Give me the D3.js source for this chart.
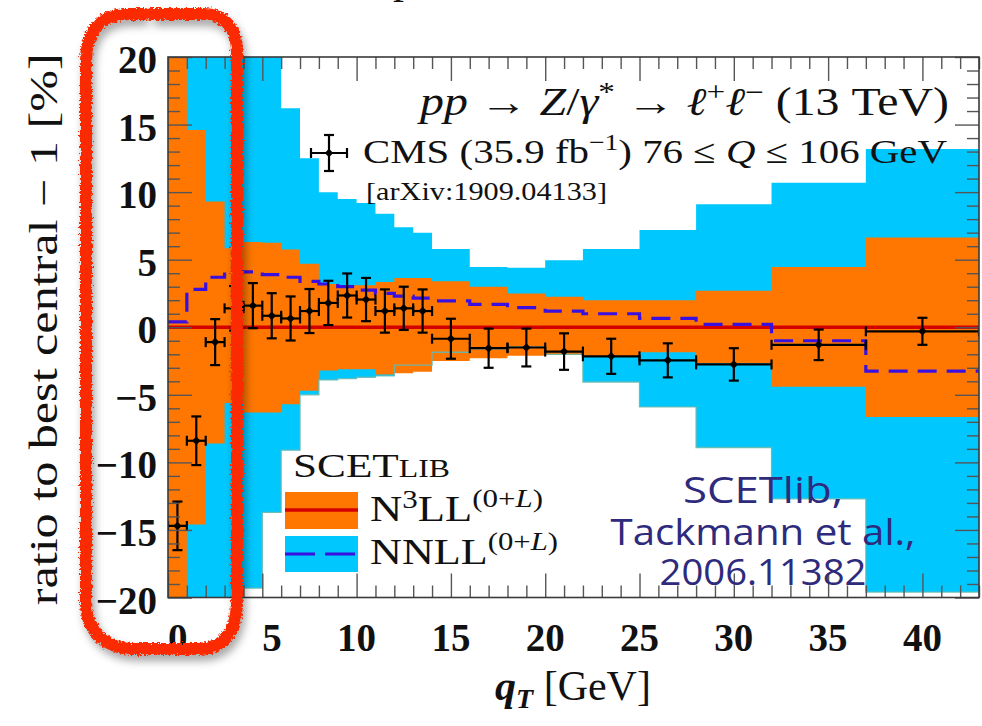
<!DOCTYPE html>
<html>
<head>
<meta charset="utf-8">
<script src="https://cdn.jsdelivr.net/npm/d3@7"></script>
<style>
  html, body { margin: 0; padding: 0; background: #ffffff; }
  svg { display: block; }
</style>
</head>
<body>
<svg id="chart" width="982" height="726"></svg>
<script>
// q_T bin edges in GeV (CMS 13 TeV Z/gamma* binning)
const binEdges = [0,1,2,3,4,5,6,7,8,9,10,11,12,13,14,16,18,20,22,25,28,32,37,43];

// CMS measurement, ratio to best central - 1 [%], and its uncertainty
const cmsRatio = [-14.7,-8.4,-1.1,1.4,1.6,0.85,0.65,1.2,1.8,2.35,2.05,1.2,1.4,1.2,-0.85,-1.55,-1.5,-1.8,-2.15,-2.45,-2.75,-1.3,-0.3];
const cmsError = [1.8,1.8,1.7,1.65,1.67,1.67,1.63,1.63,1.64,1.63,1.6,1.6,1.6,1.6,1.48,1.45,1.4,1.35,1.3,1.26,1.2,1.13,1.0];

// N3LL^(0+L) central value and uncertainty band
const n3llCentral = [0,0,0,0,0,0,0,0,0,0,0,0,0,0,0,0,0,0,0,0,0,0,0];
const n3llUpper = [25,14.6,9.3,5.85,6.3,6.25,5.75,4.7,3.2,3.1,3.1,3.35,3.65,3.65,3.4,3.0,2.5,2.25,2.0,2.0,2.7,4.45,6.65];
const n3llLower = [-25,-14.6,-8.6,-5.6,-6.3,-6.3,-5.7,-4.7,-3.2,-3.1,-3.1,-3.5,-3.4,-3.3,-2.5,-2.3,-2.1,-2.05,-2.15,-1.85,-2.65,-4.4,-6.65];

// NNLL^(0+L) central value and uncertainty band
const nnllCentral = [0.4,2.8,3.7,4.1,4.1,3.9,3.7,3.4,3.2,3.0,2.75,2.5,2.3,2.15,1.95,1.7,1.45,1.2,1.0,0.65,0.22,-1.0,-3.25];
const nnllUpper = [25,25,25,25,25,25,16.2,12.5,10.0,9.5,9.2,8.4,7.4,7.0,5.8,4.45,4.4,4.95,5.8,7.2,9.1,10.7,13.2];
const nnllLower = [-25,-25,-25,-25,-19.3,-13.7,-9.1,-5.0,-3.9,-3.8,-3.7,-3.6,-2.8,-2.8,-1.85,-1.6,-1.45,-2.0,-4.05,-5.9,-8.9,-12.7,-19.6];

// axis ticks
const xMajorTicks = [0,5,10,15,20,25,30,35,40];
const xMinorTicks = [1,2,3,4,6,7,8,9,11,12,13,14,16,17,18,19,21,22,23,24,26,27,28,29,31,32,33,34,36,37,38,39,41,42,43];
const yMajorTicks = [-20,-15,-10,-5,0,5,10,15,20];
const yMinorTicks = [-19,-18,-17,-16,-14,-13,-12,-11,-9,-8,-7,-6,-4,-3,-2,-1,1,2,3,4,6,7,8,9,11,12,13,14,16,17,18,19];

const colOrange = "#ff7700";
const colCyan = "#00c8ff";
const colRed = "#d40000";
const colBlue = "#3a10e0";
const serif = "'Liberation Serif', 'DejaVu Serif', serif";

const svg = d3.select("#chart");
const x = d3.scaleLinear().domain([0, 43]).range([168, 979]);
const y = d3.scaleLinear().domain([-20, 20]).range([597.5, 57]);

const defs = svg.append("defs");
defs.append("clipPath").attr("id", "plotClip")
  .append("rect").attr("x", x(0)).attr("y", y(20))
  .attr("width", x(43) - x(0)).attr("height", y(-20) - y(20));

// step-shaped rows: each bin contributes its left and right edge
function stepRows(values) {
  const rows = [];
  values.forEach((v, i) => {
    rows.push({ q: binEdges[i], v: v });
    rows.push({ q: binEdges[i + 1], v: v });
  });
  return rows;
}
function bandRows(lo, hi) {
  const rows = [];
  lo.forEach((v, i) => {
    rows.push({ q: binEdges[i], lo: v, hi: hi[i] });
    rows.push({ q: binEdges[i + 1], lo: v, hi: hi[i] });
  });
  return rows;
}

const bandArea = d3.area().x(d => x(d.q)).y0(d => y(d.lo)).y1(d => y(d.hi));
const stepLine = d3.line().x(d => x(d.q)).y(d => y(d.v));

const plot = svg.append("g").attr("clip-path", "url(#plotClip)");

plot.append("path").datum(bandRows(nnllLower, nnllUpper))
  .attr("d", bandArea).attr("fill", colCyan);
plot.append("path").datum(bandRows(n3llLower, n3llUpper))
  .attr("d", bandArea).attr("fill", colOrange);
// faint edge of the NNLL band where it lies inside the N3LL band
plot.append("path").datum(stepRows(nnllLower))
  .attr("d", stepLine).attr("fill", "none")
  .attr("stroke", "#62b9b4").attr("stroke-width", 1.3).attr("opacity", 0.9);

plot.append("path").datum(stepRows(n3llCentral))
  .attr("d", stepLine).attr("fill", "none")
  .attr("stroke", colRed).attr("stroke-width", 3.5);
plot.append("path").datum(stepRows(nnllCentral))
  .attr("d", stepLine).attr("fill", "none")
  .attr("stroke", colBlue).attr("stroke-width", 3.2)
  .attr("stroke-dasharray", "19,10");

// CMS data points with error bars
const cms = binEdges.slice(0, -1).map((lo, i) => ({
  lo: lo, hi: binEdges[i + 1], mid: (lo + binEdges[i + 1]) / 2,
  v: cmsRatio[i], e: cmsError[i]
}));
const pts = plot.append("g").attr("stroke", "#000").attr("stroke-width", 2.2);
const cap = 5;
cms.forEach(d => {
  const g = pts.append("g");
  const cx = x(d.mid), cy = y(d.v);
  g.append("line").attr("x1", x(d.lo)).attr("x2", x(d.hi)).attr("y1", cy).attr("y2", cy);
  g.append("line").attr("x1", x(d.lo)).attr("x2", x(d.lo)).attr("y1", cy - cap).attr("y2", cy + cap);
  g.append("line").attr("x1", x(d.hi)).attr("x2", x(d.hi)).attr("y1", cy - cap).attr("y2", cy + cap);
  g.append("line").attr("x1", cx).attr("x2", cx).attr("y1", y(d.v + d.e)).attr("y2", y(d.v - d.e));
  g.append("line").attr("x1", cx - cap).attr("x2", cx + cap).attr("y1", y(d.v + d.e)).attr("y2", y(d.v + d.e));
  g.append("line").attr("x1", cx - cap).attr("x2", cx + cap).attr("y1", y(d.v - d.e)).attr("y2", y(d.v - d.e));
});
const diamond = d3.symbol(d3.symbolSquare, 36);
plot.append("g").selectAll("path").data(cms).join("path")
  .attr("d", diamond)
  .attr("transform", d => `translate(${x(d.mid)},${y(d.v)}) rotate(45)`)
  .attr("fill", "#000");

// axes: ticks point inward on all four sides
function styleAxis(g) {
  g.select(".domain").remove();
  g.selectAll(".tick line").attr("stroke", "#555").attr("stroke-width", 1.4);
}
const bottomY = y(-20), topY = y(20), leftX = x(0), rightX = x(43);

svg.append("g").attr("transform", `translate(0,${bottomY})`)
  .call(d3.axisBottom(x).tickValues(xMinorTicks).tickSize(-12).tickFormat(""))
  .call(styleAxis);
const gx = svg.append("g").attr("transform", `translate(0,${bottomY})`)
  .call(d3.axisBottom(x).tickValues(xMajorTicks).tickSize(-24).tickFormat(d3.format("d")))
  .call(styleAxis);
gx.selectAll(".tick text")
  .attr("y", 53).attr("dy", 0).attr("x", 19).attr("text-anchor", "end")
  .attr("font-family", serif).attr("font-weight", "bold").attr("font-size", 39).attr("fill", "#111");

svg.append("g").attr("transform", `translate(0,${topY})`)
  .call(d3.axisTop(x).tickValues(xMinorTicks).tickSize(-12).tickFormat(""))
  .call(styleAxis);
svg.append("g").attr("transform", `translate(0,${topY})`)
  .call(d3.axisTop(x).tickValues(xMajorTicks).tickSize(-24).tickFormat(""))
  .call(styleAxis);

svg.append("g").attr("transform", `translate(${leftX},0)`)
  .call(d3.axisLeft(y).tickValues(yMinorTicks).tickSize(-12).tickFormat(""))
  .call(styleAxis);
const gy = svg.append("g").attr("transform", `translate(${leftX},0)`)
  .call(d3.axisLeft(y).tickValues(yMajorTicks).tickSize(-24).tickPadding(11))
  .call(styleAxis);
gy.selectAll(".tick text")
  .attr("font-family", serif).attr("font-weight", "bold").attr("font-size", 39).attr("fill", "#111")
  .attr("dy", "0.4em");

svg.append("g").attr("transform", `translate(${rightX},0)`)
  .call(d3.axisRight(y).tickValues(yMinorTicks).tickSize(-12).tickFormat(""))
  .call(styleAxis);
svg.append("g").attr("transform", `translate(${rightX},0)`)
  .call(d3.axisRight(y).tickValues(yMajorTicks).tickSize(-24).tickFormat(""))
  .call(styleAxis);

svg.append("rect")
  .attr("x", leftX).attr("y", topY).attr("width", rightX - leftX).attr("height", bottomY - topY)
  .attr("fill", "none").attr("stroke", "#3a3a3a").attr("stroke-width", 1.6);

// axis titles
svg.append("text")
  .attr("transform", `translate(57,${(topY + bottomY) / 2 + 2}) rotate(-90)`)
  .attr("text-anchor", "middle")
  .attr("font-family", serif).attr("font-size", 40).attr("fill", "#111")
  .attr("textLength", 552).attr("lengthAdjust", "spacingAndGlyphs")
  .text("ratio to best central \u2212 1 [%]");

const xt = svg.append("text")
  .attr("x", 573).attr("y", 700).attr("text-anchor", "middle")
  .attr("font-family", serif).attr("font-size", 42).attr("fill", "#111");
xt.append("tspan").attr("font-style", "italic").attr("font-weight", "bold").text("q");
xt.append("tspan").attr("font-style", "italic").attr("font-weight", "bold")
  .attr("font-size", 28).attr("dy", 8).text("T");
xt.append("tspan").attr("dy", -8).text(" [GeV]");

// process label
const proc = svg.append("text")
  .attr("x", 949).attr("y", 115).attr("text-anchor", "end")
  .attr("font-family", serif).attr("font-size", 39).attr("fill", "#111")
  .attr("textLength", 529).attr("lengthAdjust", "spacingAndGlyphs");
proc.append("tspan").attr("font-style", "italic").text("pp");
proc.append("tspan").text(" \u2192 ");
proc.append("tspan").attr("font-style", "italic").text("Z");
proc.append("tspan").text("/");
proc.append("tspan").attr("font-style", "italic").text("\u03b3");
proc.append("tspan").attr("font-size", 27).attr("dy", -14).text("*");
proc.append("tspan").attr("dy", 14).text(" \u2192 ");
proc.append("tspan").attr("font-style", "italic").text("\u2113");
proc.append("tspan").attr("font-size", 27).attr("dy", -14).text("+");
proc.append("tspan").attr("font-style", "italic").attr("dy", 14).text("\u2113");
proc.append("tspan").attr("font-size", 27).attr("dy", -14).text("\u2212");
proc.append("tspan").attr("dy", 14).text(" (13 TeV)");

// data legend entry
const lgx = 329, lgy = 153;
const lg = svg.append("g").attr("stroke", "#000").attr("stroke-width", 2.2);
lg.append("line").attr("x1", lgx - 18).attr("x2", lgx + 18).attr("y1", lgy).attr("y2", lgy);
lg.append("line").attr("x1", lgx - 18).attr("x2", lgx - 18).attr("y1", lgy - cap).attr("y2", lgy + cap);
lg.append("line").attr("x1", lgx + 18).attr("x2", lgx + 18).attr("y1", lgy - cap).attr("y2", lgy + cap);
lg.append("line").attr("x1", lgx).attr("x2", lgx).attr("y1", lgy - 18).attr("y2", lgy + 18);
lg.append("line").attr("x1", lgx - cap).attr("x2", lgx + cap).attr("y1", lgy - 18).attr("y2", lgy - 18);
lg.append("line").attr("x1", lgx - cap).attr("x2", lgx + cap).attr("y1", lgy + 18).attr("y2", lgy + 18);
svg.append("path").attr("d", diamond)
  .attr("transform", `translate(${lgx},${lgy}) rotate(45)`).attr("fill", "#000");

const cmsText = svg.append("text")
  .attr("x", 363).attr("y", 163)
  .attr("font-family", serif).attr("font-size", 34).attr("fill", "#111")
  .attr("textLength", 584).attr("lengthAdjust", "spacingAndGlyphs");
cmsText.append("tspan").text("CMS (35.9 fb");
cmsText.append("tspan").attr("font-size", 23).attr("dy", -13).text("\u22121");
cmsText.append("tspan").attr("dy", 13).text(")  76 \u2264 ");
cmsText.append("tspan").attr("font-style", "italic").text("Q");
cmsText.append("tspan").text(" \u2264 106 GeV");

svg.append("text")
  .attr("x", 366).attr("y", 200)
  .attr("font-family", serif).attr("font-size", 26).attr("fill", "#111")
  .attr("textLength", 241).attr("lengthAdjust", "spacingAndGlyphs")
  .text("[arXiv:1909.04133]");

// theory legend
const head = svg.append("text")
  .attr("x", 293).attr("y", 477)
  .attr("font-family", serif).attr("font-size", 34).attr("fill", "#111")
  .attr("textLength", 157).attr("lengthAdjust", "spacingAndGlyphs");
head.append("tspan").text("SCET");
head.append("tspan").attr("font-size", 25).text("LIB");

svg.append("rect").attr("x", 285).attr("y", 492).attr("width", 73).attr("height", 37).attr("fill", colOrange);
svg.append("line").attr("x1", 285).attr("x2", 358).attr("y1", 510).attr("y2", 510)
  .attr("stroke", colRed).attr("stroke-width", 3.5);
svg.append("rect").attr("x", 285).attr("y", 536).attr("width", 73).attr("height", 36).attr("fill", colCyan);
svg.append("line").attr("x1", 285).attr("x2", 358).attr("y1", 554).attr("y2", 554)
  .attr("stroke", colBlue).attr("stroke-width", 3.2).attr("stroke-dasharray", "30,10");

function orderLabel(yy, width, parts) {
  const t = svg.append("text").attr("x", 370).attr("y", yy)
    .attr("font-family", serif).attr("font-size", 36).attr("fill", "#111")
    .attr("textLength", width).attr("lengthAdjust", "spacingAndGlyphs");
  parts(t);
}
orderLabel(521, 173, t => {
  t.append("tspan").text("N");
  t.append("tspan").attr("font-size", 25).attr("dy", -13).text("3");
  t.append("tspan").attr("dy", 13).text("LL");
  t.append("tspan").attr("font-size", 25).attr("dy", -14).text("(0+");
  t.append("tspan").attr("font-size", 25).attr("font-style", "italic").text("L");
  t.append("tspan").attr("font-size", 25).text(")");
});
orderLabel(564, 188, t => {
  t.append("tspan").text("NNLL");
  t.append("tspan").attr("font-size", 25).attr("dy", -14).text("(0+");
  t.append("tspan").attr("font-size", 25).attr("font-style", "italic").text("L");
  t.append("tspan").attr("font-size", 25).text(")");
});

// reference note
[["SCETlib,", 503, 160], ["Tackmann et al.,", 545, 305], ["2006.11382", 585, 207]].forEach(([s, yy, w]) => {
  svg.append("text")
    .attr("x", 763).attr("y", yy).attr("text-anchor", "middle")
    .attr("font-family", "'Open Sans', 'DejaVu Sans', sans-serif")
    .attr("font-size", 36).attr("fill", "#2e2a7c")
    .attr("textLength", w).attr("lengthAdjust", "spacingAndGlyphs")
    .text(s);
});

// fragment of the heading above the figure
svg.append("text").attr("x", 393).attr("y", -7)
  .attr("font-family", serif).attr("font-size", 44).attr("fill", "#111").text("p");

// hand-drawn highlight around the low-q_T region
const rough = defs.append("filter").attr("id", "rough")
  .attr("x", "-20%").attr("y", "-10%").attr("width", "140%").attr("height", "120%");
rough.append("feTurbulence").attr("type", "fractalNoise").attr("baseFrequency", 0.45)
  .attr("numOctaves", 2).attr("seed", 4).attr("result", "noise");
rough.append("feDisplacementMap").attr("in", "SourceGraphic").attr("in2", "noise")
  .attr("scale", 6).attr("xChannelSelector", "R").attr("yChannelSelector", "G");
const shadow = defs.append("filter").attr("id", "shade")
  .attr("x", "-30%").attr("y", "-10%").attr("width", "160%").attr("height", "120%");
shadow.append("feGaussianBlur").attr("stdDeviation", 4);

const ring = "M151,14 L203,14 C226,14 237,30 237,52 L237,600 C237,632 224,649 198,649 " +
  "L136,649 C104,649 86,630 86,602 L86,62 C86,32 100,14 128,14 L145,14";
svg.append("path").attr("d", ring).attr("fill", "none")
  .attr("stroke", "#000").attr("stroke-opacity", 0.35).attr("stroke-width", 12)
  .attr("transform", "translate(3,6)").attr("filter", "url(#shade)");
svg.append("path").attr("d", ring).attr("fill", "none")
  .attr("stroke", "#fb2a04").attr("stroke-width", 12).attr("stroke-linecap", "round")
  .attr("filter", "url(#rough)");
</script>
</body>
</html>
